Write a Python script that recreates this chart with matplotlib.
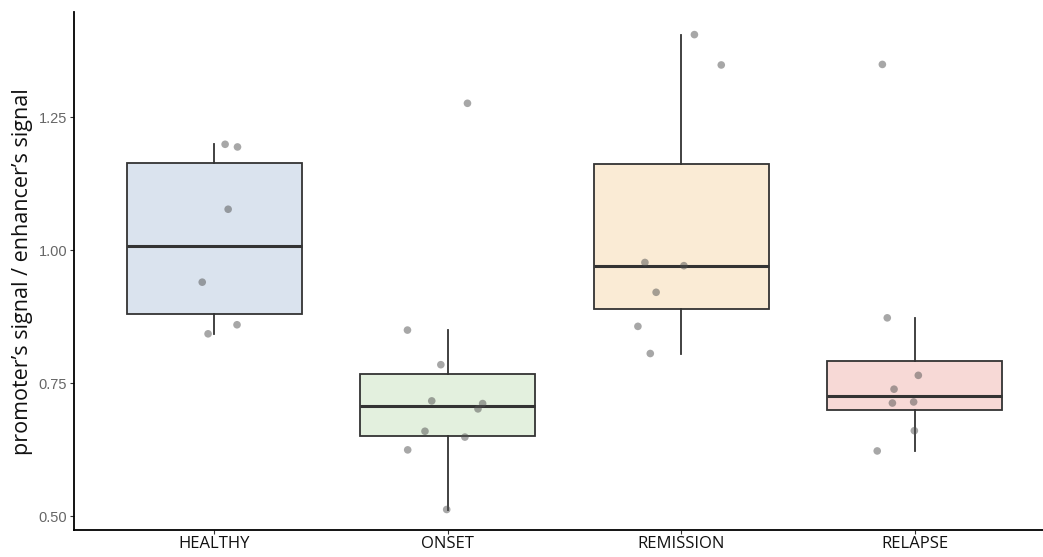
import numpy as np
import matplotlib.pyplot as plt

groups = ['HEALTHY', 'ONSET', 'REMISSION', 'RELAPSE']

healthy = [1.199, 1.194, 1.077, 0.940, 0.860, 0.843]
onset = [0.850, 0.785, 0.717, 0.712, 0.702, 0.660, 0.649, 0.625, 0.513, 1.276]
remission = [1.405, 1.348, 0.977, 0.971, 0.921, 0.857, 0.806]
relapse = [1.349, 0.873, 0.765, 0.739, 0.713, 0.715, 0.661, 0.623]

# horizontal jitter of each point around its group centre
healthy_jit = [0.047, 0.100, 0.060, -0.051, 0.098, -0.026]
onset_jit = [-0.172, -0.029, -0.068, 0.150, 0.130, -0.097, 0.074, -0.171, -0.004, 0.085]
remission_jit = [0.057, 0.172, -0.155, 0.012, -0.107, -0.185, -0.132]
relapse_jit = [-0.138, -0.117, 0.016, -0.088, -0.095, -0.004, -0.001, -0.160]

data = [healthy, onset, remission, relapse]
jitter = [healthy_jit, onset_jit, remission_jit, relapse_jit]
fills = ['#dae3ee', '#e3f0de', '#faebd5', '#f7d9d6']

fig = plt.figure(figsize=(10.43, 5.57), dpi=100)
ax = fig.add_axes([0.071, 0.048, 0.929, 0.930])

pos = np.arange(1, len(groups) + 1)
bp = ax.boxplot(data, positions=pos, widths=0.75, whis=1.5, showfliers=False,
                patch_artist=True,
                boxprops=dict(edgecolor='#333333', linewidth=1.3),
                whiskerprops=dict(color='#333333', linewidth=1.3),
                capprops=dict(linewidth=0),
                medianprops=dict(color='#333333', linewidth=2.2))
for patch, c in zip(bp['boxes'], fills):
    patch.set_facecolor(c)

for p, vals, jit in zip(pos, data, jitter):
    ax.scatter(p + np.array(jit), vals, s=30, color='#505050', alpha=0.5,
               edgecolors='none', zorder=3)

ax.set_xlim(0.4, 4.55)
ax.set_ylim(0.474, 1.447)
ax.set_yticks([0.50, 0.75, 1.00, 1.25])
ax.set_yticklabels(['0.50', '0.75', '1.00', '1.25'])
ax.set_xticks(pos)
ax.set_xticklabels(groups, family='Open Sans', fontsize=12, color='#111111')

ax.tick_params(axis='y', labelsize=10.5, labelcolor='#666666', color='#333333',
               length=3, width=0.8, pad=2)
ax.tick_params(axis='x', color='#333333', length=3, width=0.8, pad=1)
for lab in ax.get_yticklabels():
    lab.set_family('Liberation Sans')

ax.set_ylabel('promoter\u2019s signal / enhancer\u2019s signal', family='Open Sans',
              fontsize=15.5, labelpad=4, color='#111111')

ax.spines['top'].set_visible(False)
ax.spines['right'].set_visible(False)
ax.spines['left'].set_linewidth(1.3)
ax.spines['bottom'].set_linewidth(1.3)

fig.savefig('out.png', dpi=100)
